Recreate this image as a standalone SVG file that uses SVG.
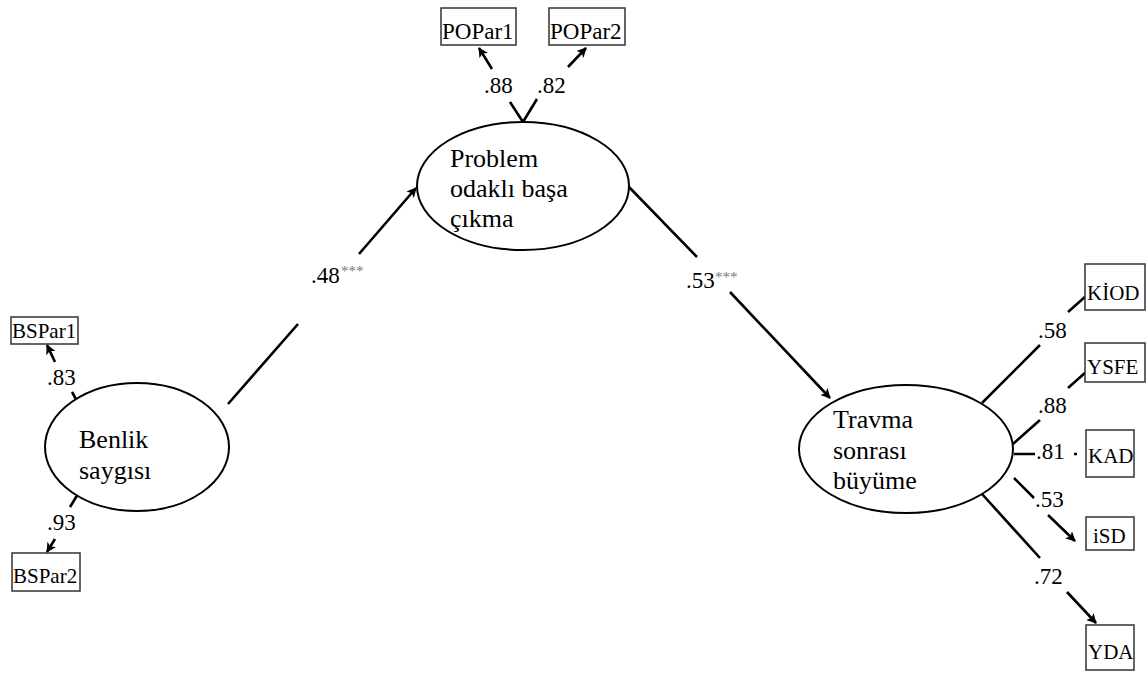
<svg xmlns="http://www.w3.org/2000/svg" width="1146" height="673" viewBox="0 0 1146 673">
  <style>
    .lat { fill: #fff; stroke: #000; stroke-width: 2; }
    .obs { fill: #fff; stroke: #333; stroke-width: 1.5; }
    .edge { fill: none; stroke: #000; stroke-width: 2.6; }
    .lbl { font-size: 26px; }
    .box { font-size: 21px; }
    .box-lg { font-size: 23px; }
    .coef { font-size: 23px; }
    .sig { font-size: 15px; fill: #777; }
  </style>
  <defs>
    <marker id="arrow" markerWidth="10" markerHeight="10" refX="9" refY="5" orient="auto" markerUnits="userSpaceOnUse" viewBox="0 0 10 10">
      <path d="M0,0 L10,5 L0,10 L2.5,5 Z" fill="#000"/>
    </marker>
  </defs>

  <g font-family="Liberation Serif, DejaVu Serif, serif" fill="#000">
  <!-- paths and loadings -->
  <g id="connectors">
    <!-- Benlik saygısı -> Problem odaklı başa çıkma -->
    <path class="edge" d="M228,404 L298,324 M359,254 L416,188" marker-end="url(#arrow)"/>
    <!-- Problem odaklı başa çıkma -> Travma sonrası büyüme -->
    <path class="edge" d="M629,187 L697,257 M730,292 L830,398" marker-end="url(#arrow)"/>
    <!-- Problem odaklı indicators -->
    <path class="edge" d="M523,122 L510,102 M492,69 L479,48" marker-end="url(#arrow)"/>
    <path class="edge" d="M523,122 L537,99 M568,67 L586,48" marker-end="url(#arrow)"/>
    <!-- Benlik saygısı indicators -->
    <path class="edge" d="M77,401 L72,392 M55,362 L47,345" marker-end="url(#arrow)"/>
    <path class="edge" d="M78,494 L70,507 M55,539 L47,552" marker-end="url(#arrow)"/>
    <!-- Travma sonrası büyüme indicators -->
    <path class="edge" d="M982,403 L1040,345 M1068,312 L1086,296"/>
    <path class="edge" d="M1013,444 L1040,420 M1068,388 L1086,372"/>
    <path class="edge" d="M1014,454 L1035,454 M1074,454 L1077,454"/>
    <path class="edge" d="M1014,478 L1034,498 M1048,515 L1075,541" marker-end="url(#arrow)"/>
    <path class="edge" d="M982,494 L1040,558 M1067,592 L1096,623" marker-end="url(#arrow)"/>

    <!-- coefficients -->
    <text class="coef" x="311" y="283">.48</text>
    <text class="sig" x="341" y="276">***</text>
    <text class="coef" x="686" y="288">.53</text>
    <text class="sig" x="715" y="282">***</text>
    <text class="coef" x="484" y="93">.88</text>
    <text class="coef" x="537" y="93">.82</text>
    <text class="coef" x="47" y="385">.83</text>
    <text class="coef" x="47" y="530">.93</text>
    <text class="coef" x="1038" y="338">.58</text>
    <text class="coef" x="1038" y="413">.88</text>
    <text class="coef" x="1036" y="459">.81</text>
    <text class="coef" x="1035" y="507">.53</text>
    <text class="coef" x="1034" y="584">.72</text>
  </g>

  <!-- latent variables -->
  <g id="problem-odakli">
    <ellipse class="lat" cx="523" cy="186" rx="106" ry="64"/>
    <text class="lbl" x="450" y="167">Problem</text>
    <text class="lbl" x="450" y="197">odaklı başa</text>
    <text class="lbl" x="450" y="227">çıkma</text>
  </g>
  <g id="benlik-saygisi">
    <ellipse class="lat" cx="137" cy="447" rx="92" ry="64"/>
    <text class="lbl" x="79" y="448">Benlik</text>
    <text class="lbl" x="79" y="479">saygısı</text>
  </g>
  <g id="travma-sonrasi">
    <ellipse class="lat" cx="906" cy="449" rx="107" ry="64"/>
    <text class="lbl" x="833" y="428">Travma</text>
    <text class="lbl" x="833" y="459">sonrası</text>
    <text class="lbl" x="833" y="489">büyüme</text>
  </g>

  <!-- observed indicators -->
  <g id="POPar1">
    <rect class="obs" x="441" y="8" width="75" height="37"/>
    <text class="box-lg" x="442" y="39">POPar1</text>
  </g>
  <g id="POPar2">
    <rect class="obs" x="549" y="8" width="76" height="37"/>
    <text class="box-lg" x="550" y="39">POPar2</text>
  </g>
  <g id="BSPar1">
    <rect class="obs" x="11" y="317" width="67" height="27"/>
    <text class="box" x="12" y="338">BSPar1</text>
  </g>
  <g id="BSPar2">
    <rect class="obs" x="12" y="553" width="68" height="38"/>
    <text class="box" x="13" y="583">BSPar2</text>
  </g>
  <g id="KIOD">
    <rect class="obs" x="1085" y="264" width="60" height="46"/>
    <text class="box" x="1087" y="300">KİOD</text>
  </g>
  <g id="YSFE">
    <rect class="obs" x="1085" y="343" width="60" height="39"/>
    <text class="box" x="1087" y="374">YSFE</text>
  </g>
  <g id="KAD">
    <rect class="obs" x="1086" y="430" width="48" height="47"/>
    <text class="box" x="1088" y="463">KAD</text>
  </g>
  <g id="iSD">
    <rect class="obs" x="1086" y="517" width="48" height="33"/>
    <text class="box" x="1093" y="543">iSD</text>
  </g>
  <g id="YDA">
    <rect class="obs" x="1086" y="625" width="48" height="45"/>
    <text class="box" x="1088" y="659">YDA</text>
  </g>
  </g>
</svg>
